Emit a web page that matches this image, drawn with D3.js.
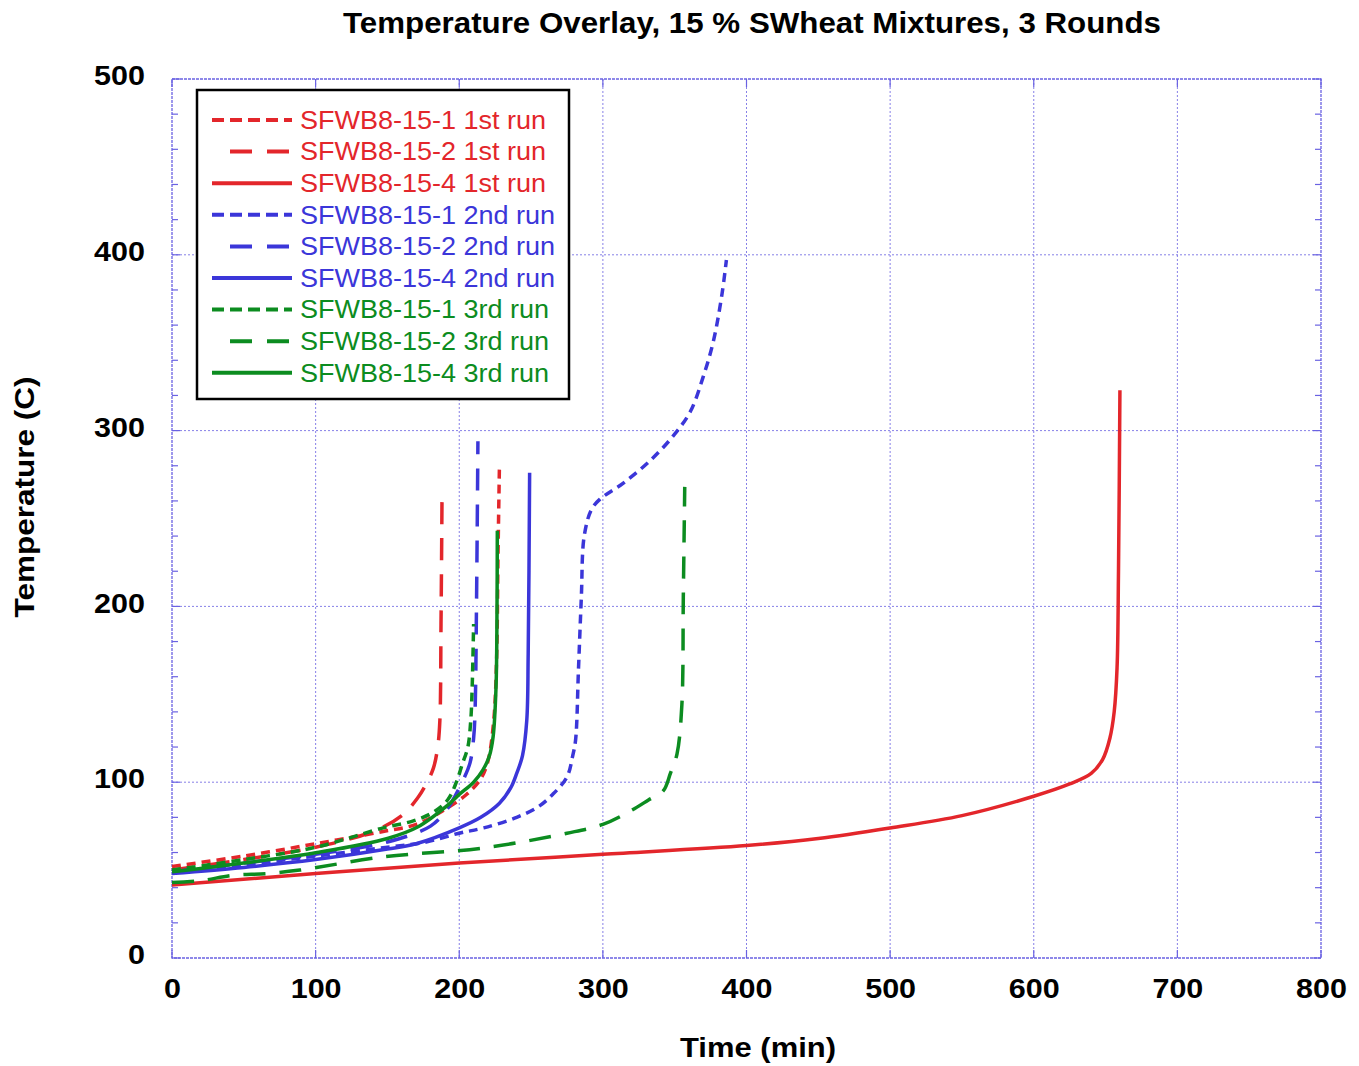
<!DOCTYPE html>
<html>
<head>
<meta charset="utf-8">
<script src="https://cdn.jsdelivr.net/npm/d3@7"></script>
<style>
  body { margin: 0; background: #fff; }
  svg text { font-family: "Liberation Sans", Arial, sans-serif; }
</style>
</head>
<body>
<div id="grafica"></div>
<script>
// ==============================
// DATOS
// ==============================

const xTicks = [0, 100, 200, 300, 400, 500, 600, 700, 800];
const yTicks = [0, 100, 200, 300, 400, 500];

// [tiempo (min), temperatura (C)]
const sfwb1Run1 = [[0,52],[50,58],[100,65],[147,72],[170,76],[189,84],[205,93],[215,102],[220,112],[224,135],[226,170],[227,230],[228,281]];
const sfwb2Run1 = [[0,50],[50,56],[100,63],[140,72],[160,81],[171,91],[177,99],[182,108],[185,120],[186.5,135],[187.3,190],[188,262]];
const sfwb4Run1 = [[0,41.5],[100,48],[200,54],[300,59],[400,64],[450,68],[500,74],[550,81],[600,92],[625,99],[640,105],[648,113],[653,125],[656,140],[658,165],[659,220],[660,323]];
const sfwb1Run2 = [[0,49],[50,53],[100,58],[150,63],[177,66],[200,71],[217,74],[240,80],[255,86],[265,93],[275,103],[279,115],[281,124],[283,164],[285,205],[287,240],[292,255],[298,261],[314,270],[333,283],[349,297],[361,311],[370,331],[377,351],[383,378],[386,397]];
const sfwb2Run2 = [[0,49],[50,54],[100,59],[150,66],[180,75],[191,84],[197,92],[202,100],[207.5,111],[210,125],[211,140],[212,200],[213,294]];
const sfwb4Run2 = [[0,48],[50,51.5],[100,56],[150,62],[170,65],[200,74],[215,80],[228,88],[236,97],[240,105],[244,115],[247,135],[248,173],[249,276]];
const sfwb1Run3 = [[0,50],[50,56],[100,63],[147,74],[168,78],[182,83],[192,90],[198,100],[202,110],[206,120],[208,135],[209,154],[210,190]];
const sfwb2Run3 = [[0,43],[20,44],[42,47],[66,48],[89,50],[147,57.5],[217,62.6],[275,71],[300,76],[320,84],[332,90],[342,95],[347,105],[351.6,116],[355,144],[356,205],[357,268]];
const sfwb4Run3 = [[0,49],[50,54],[101,60],[150,68],[171,74.5],[193.5,88],[200,93],[210,100],[216.5,107],[221,115],[223.6,126],[225.6,154],[226.3,200],[226.5,243]];

const seriesNames = [
  "SFWB8-15-1 1st run", "SFWB8-15-2 1st run", "SFWB8-15-4 1st run",
  "SFWB8-15-1 2nd run", "SFWB8-15-2 2nd run", "SFWB8-15-4 2nd run",
  "SFWB8-15-1 3rd run", "SFWB8-15-2 3rd run", "SFWB8-15-4 3rd run"
];
const seriesData = [sfwb1Run1, sfwb2Run1, sfwb4Run1, sfwb1Run2, sfwb2Run2, sfwb4Run2, sfwb1Run3, sfwb2Run3, sfwb4Run3];

// ==============================
// ESTILOS
// ==============================

const ROJO = "#e3262b", AZUL = "#3b36d9", VERDE = "#0c8c20";
const coloresRun = [ROJO, AZUL, VERDE];
const trazos = ["9,6", "22,14", null]; // punteada, guiones largos, continua
const GRID = "#6a62e2";

const W = 1359, H = 1066;
const margin = { top: 79, right: 38, bottom: 108, left: 172 };
const iw = W - margin.left - margin.right;
const ih = H - margin.top - margin.bottom;

const svg = d3.select("#grafica").append("svg")
  .attr("width", W).attr("height", H);

const g = svg.append("g").attr("transform", `translate(${margin.left},${margin.top})`);

const x = d3.scaleLinear().domain([0, 800]).range([0, iw]);
const y = d3.scaleLinear().domain([0, 500]).range([ih, 0]);

// el texto del original es algo más ancho que Liberation Sans
function ensanchar(sel, factor) {
  sel.each(function () {
    const w = this.getComputedTextLength();
    d3.select(this).attr("textLength", w * factor).attr("lengthAdjust", "spacingAndGlyphs");
  });
}

// ==============================
// REJILLA Y MARCAS
// ==============================

g.append("g").selectAll("line").data(xTicks.slice(1, -1)).join("line")
  .attr("x1", d => x(d)).attr("x2", d => x(d)).attr("y1", 0).attr("y2", ih)
  .attr("stroke", GRID).attr("stroke-width", 1).attr("stroke-dasharray", "2,2").attr("opacity", 0.8);

g.append("g").selectAll("line").data(yTicks.slice(1, -1)).join("line")
  .attr("y1", d => y(d)).attr("y2", d => y(d)).attr("x1", 0).attr("x2", iw)
  .attr("stroke", GRID).attr("stroke-width", 1).attr("stroke-dasharray", "2,2").attr("opacity", 0.8);

// marcas menores en Y cada 20
const yMenores = d3.range(0, 501, 20).filter(v => v % 100 !== 0);
const marcas = g.append("g").attr("stroke", GRID).attr("stroke-width", 1.2);
marcas.selectAll(".ml").data(yMenores).join("line")
  .attr("x1", 0).attr("x2", 6).attr("y1", d => y(d)).attr("y2", d => y(d));
marcas.selectAll(".mr").data(yMenores).join("line")
  .attr("x1", iw - 6).attr("x2", iw).attr("y1", d => y(d)).attr("y2", d => y(d));
marcas.selectAll(".mt").data(xTicks).join("line")
  .attr("x1", d => x(d)).attr("x2", d => x(d)).attr("y1", 0).attr("y2", 8);
marcas.selectAll(".mb").data(xTicks).join("line")
  .attr("x1", d => x(d)).attr("x2", d => x(d)).attr("y1", ih - 8).attr("y2", ih);
marcas.selectAll(".myl").data(yTicks).join("line")
  .attr("x1", 0).attr("x2", 8).attr("y1", d => y(d)).attr("y2", d => y(d));
marcas.selectAll(".myr").data(yTicks).join("line")
  .attr("x1", iw - 8).attr("x2", iw).attr("y1", d => y(d)).attr("y2", d => y(d));

// marco del área
g.append("rect")
  .attr("width", iw).attr("height", ih)
  .attr("fill", "none").attr("stroke", GRID).attr("stroke-width", 1.3)
  .attr("stroke-dasharray", "3,1");

// ==============================
// EJES (solo etiquetas)
// ==============================

const ejeX = g.append("g").attr("transform", `translate(0,${ih})`)
  .call(d3.axisBottom(x).tickValues(xTicks).tickSize(0).tickPadding(20).tickFormat(d3.format("d")));
const ejeY = g.append("g")
  .call(d3.axisLeft(y).tickValues(yTicks).tickSize(0).tickPadding(27).tickFormat(d3.format("d")));

[ejeX, ejeY].forEach(e => {
  e.select(".domain").remove();
  e.selectAll("text")
    .attr("fill", "#000")
    .style("font-family", "'Liberation Sans', Arial, sans-serif")
    .style("font-size", "28px")
    .style("font-weight", "bold");
  ensanchar(e.selectAll("text"), 1.09);
});
ejeY.selectAll("text").attr("dy", "0.2em");

// ==============================
// CURVAS
// ==============================

const linea = d3.line()
  .x(d => x(d[0]))
  .y(d => y(d[1]))
  .curve(d3.curveCatmullRom.alpha(0.5));

const curvas = g.append("g");
seriesData.forEach((datos, i) => {
  curvas.append("path")
    .datum(datos)
    .attr("d", linea)
    .attr("fill", "none")
    .attr("stroke", coloresRun[Math.floor(i / 3)])
    .attr("stroke-width", 3.5)
    .attr("stroke-dasharray", trazos[i % 3])
    .attr("stroke-linejoin", "round");
});

// ==============================
// LEYENDA
// ==============================

const leyenda = svg.append("g");
leyenda.append("rect")
  .attr("x", 197).attr("y", 90).attr("width", 372).attr("height", 309)
  .attr("fill", "#fff").attr("stroke", "#000").attr("stroke-width", 2.5);

seriesNames.forEach((nombre, i) => {
  const yy = 120 + i * 31.6;
  const color = coloresRun[Math.floor(i / 3)];
  const tipo = i % 3;
  leyenda.append("line")
    .attr("x1", tipo === 1 ? 230 : 212).attr("x2", tipo === 1 ? 289 : 292)
    .attr("y1", yy).attr("y2", yy)
    .attr("stroke", color).attr("stroke-width", 4)
    .attr("stroke-dasharray", tipo === 0 ? "12,6" : tipo === 1 ? "22,15" : null);
  leyenda.append("text")
    .attr("x", 300).attr("y", yy).attr("dy", "0.35em")
    .attr("fill", color)
    .style("font-size", "25px")
    .text(nombre);
});
ensanchar(leyenda.selectAll("text"), 1.08);

// ==============================
// TÍTULOS
// ==============================

svg.append("text")
  .attr("x", 752).attr("y", 33).attr("text-anchor", "middle")
  .attr("textLength", 818).attr("lengthAdjust", "spacingAndGlyphs")
  .style("font-size", "30px").style("font-weight", "bold")
  .text("Temperature Overlay, 15 % SWheat Mixtures, 3 Rounds");

svg.append("text")
  .attr("x", 758).attr("y", 1057).attr("text-anchor", "middle")
  .attr("textLength", 156).attr("lengthAdjust", "spacingAndGlyphs")
  .style("font-size", "28px").style("font-weight", "bold")
  .text("Time (min)");

svg.append("text")
  .attr("transform", "translate(34,497) rotate(-90)")
  .attr("text-anchor", "middle")
  .attr("textLength", 241).attr("lengthAdjust", "spacingAndGlyphs")
  .style("font-size", "28px").style("font-weight", "bold")
  .text("Temperature (C)");
</script>
</body>
</html>
